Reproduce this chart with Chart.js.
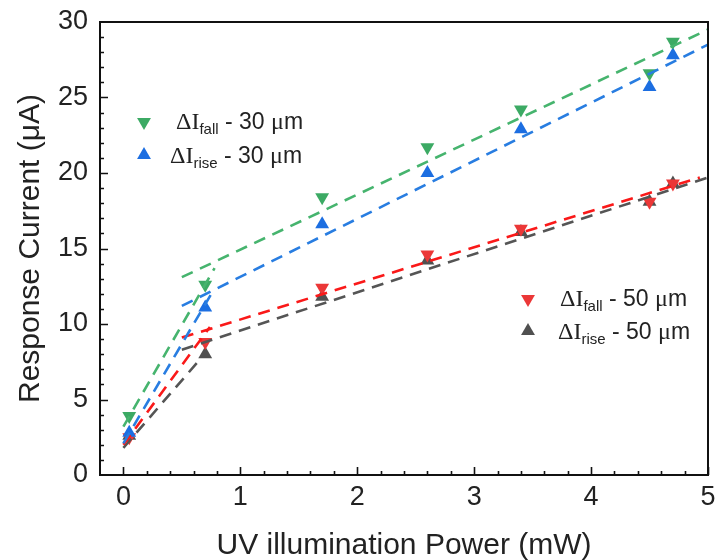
<!DOCTYPE html>
<html>
<head>
<meta charset="utf-8">
<script src="https://cdn.jsdelivr.net/npm/chart.js@4.4.0/dist/chart.umd.min.js"></script>
<style>
  html, body { margin: 0; padding: 0; background: #fff; }
</style>
</head>
<body>
<canvas id="myChart" width="716" height="560"></canvas>
<script>
// measured points
const power = [0.05, 0.7, 1.7, 2.6, 3.4, 4.5, 4.7]
const fall30 = [3.9, 12.6, 18.4, 21.7, 24.2, 26.6, 28.7]
const rise30 = [2.8, 11.1, 16.6, 20.0, 22.9, 25.7, 27.8]
const fall50 = [2.5, 8.8, 12.4, 14.6, 16.3, 18.1, 19.3]
const rise50 = [2.6, 8.0, 11.8, 14.2, 16.1, 18.1, 19.3]

// dashed fit lines: low-power part and high-power part, [x, y] ends
const fitFall30Low = [[0, 3.2], [0.78, 13.7]]
const fitFall30High = [[0.5, 13.1], [5.0, 29.5]]
const fitRise30Low = [[0, 2.1], [0.76, 12.1]]
const fitRise30High = [[0.5, 11.2], [5.0, 28.5]]
const fitFall50Low = [[0, 2.0], [0.74, 9.8]]
const fitFall50High = [[0.5, 9.1], [4.93, 19.7]]
const fitRise50Low = [[0, 1.8], [0.66, 7.7]]
const fitRise50High = [[0.5, 8.3], [5.0, 19.7]]

const xTicks = [0, 1, 2, 3, 4, 5]
const yTicks = [0, 5, 10, 15, 20, 25, 30]

const green = 'rgb(60,170,100)'
const blue = 'rgb(28,110,225)'
const red = 'rgb(235,55,55)'
const gray = 'rgb(80,80,80)'

const greenLine = 'rgb(70,180,110)'
const blueLine = 'rgb(40,125,225)'
const redLine = 'rgb(250,25,25)'
const grayLine = 'rgb(85,85,85)'

function pts(xs, ys) {
  return xs.map((x, i) => ({ x: x, y: ys[i] }))
}
function seg(p) {
  return p.map(a => ({ x: a[0], y: a[1] }))
}

function markers(ys, color, down) {
  return {
    data: pts(power, ys),
    showLine: false,
    pointStyle: 'triangle',
    rotation: down ? 180 : 0,
    pointRadius: 8,
    pointHoverRadius: 8,
    backgroundColor: color,
    borderColor: color,
    borderWidth: 0
  }
}
function fit(p, color) {
  return {
    data: seg(p),
    showLine: true,
    pointRadius: 0,
    borderColor: color,
    borderWidth: 2.6,
    borderDash: [12, 8],
    fill: false
  }
}

const sans = '"Liberation Sans", Arial, sans-serif'
const serif = '"Liberation Serif", "Times New Roman", serif'

// frame and inward ticks
const framePlugin = {
  id: 'frame',
  afterDatasetsDraw(chart) {
    const ctx = chart.ctx
    const a = chart.chartArea
    const xs = chart.scales.x
    const ys = chart.scales.y
    ctx.save()
    ctx.strokeStyle = '#111'
    ctx.lineWidth = 2
    ctx.strokeRect(a.left, a.top, a.right - a.left, a.bottom - a.top)
    ctx.lineWidth = 1.6
    ctx.beginPath()
    for (let v = 0; v <= 5.001; v += 0.2) {
      const px = Math.round(xs.getPixelForValue(v)) + 0.5
      const major = Math.abs(v - Math.round(v)) < 0.01
      ctx.moveTo(px, a.bottom)
      ctx.lineTo(px, a.bottom - (major ? 8 : 4))
    }
    for (let v = 1; v < 30; v += 1) {
      const py = Math.round(ys.getPixelForValue(v)) + 0.5
      const major = v % 5 === 0
      ctx.moveTo(a.left, py)
      ctx.lineTo(a.left + (major ? 8 : 4), py)
    }
    ctx.stroke()
    ctx.restore()
  }
}

function drawTri(ctx, x, y, r, down, color) {
  ctx.fillStyle = color
  ctx.beginPath()
  const s = down ? -1 : 1
  ctx.moveTo(x, y - s * r)
  ctx.lineTo(x - r * 0.866, y + s * r * 0.5)
  ctx.lineTo(x + r * 0.866, y + s * r * 0.5)
  ctx.closePath()
  ctx.fill()
}

const legendPlugin = {
  id: 'legendBoxes',
  afterDraw(chart) {
    const ctx = chart.ctx
    const rows = [
      { mx: 144, my: 122, tx: 176, base: 129, sub: 'fall', size: '30', color: green, down: true },
      { mx: 144, my: 155, tx: 170, base: 163, sub: 'rise', size: '30', color: blue, down: false },
      { mx: 528, my: 299, tx: 560, base: 306, sub: 'fall', size: '50', color: red, down: true },
      { mx: 528, my: 331, tx: 558, base: 339, sub: 'rise', size: '50', color: gray, down: false }
    ]
    ctx.save()
    ctx.textBaseline = 'alphabetic'
    ctx.textAlign = 'left'
    rows.forEach(r => {
      drawTri(ctx, r.mx, r.my, 8, r.down, r.color)
      const parts = [
        [serif, 24, 'ΔI', 0],
        [sans, 15, r.sub, 5],
        [sans, 23, ' - ' + r.size + ' ', 0],
        [serif, 24, 'μ', 0],
        [sans, 23, 'm', 0]
      ]
      let x = r.tx
      ctx.fillStyle = '#222'
      parts.forEach(p => {
        ctx.font = p[1] + 'px ' + p[0]
        ctx.fillText(p[2], x, r.base + p[3])
        x += ctx.measureText(p[2]).width
      })
    })
    ctx.restore()
  }
}

const ctx = document.getElementById('myChart').getContext('2d')
const myChart = new Chart(ctx, {
  type: 'scatter',
  data: {
    datasets: [
      fit(fitFall30Low, greenLine),
      fit(fitRise30Low, blueLine),
      fit(fitFall50Low, redLine),
      fit(fitRise50Low, grayLine),
      fit(fitFall30High, greenLine),
      fit(fitRise30High, blueLine),
      fit(fitFall50High, redLine),
      fit(fitRise50High, grayLine),
      markers(fall30, green, true),
      markers(rise30, blue, false),
      markers(fall50, red, true),
      markers(rise50, gray, false)
    ]
  },
  options: {
    responsive: false,
    animation: false,
    layout: { padding: { top: 22, right: 3, left: 0, bottom: 0 } },
    plugins: {
      legend: { display: false },
      tooltip: { enabled: false }
    },
    scales: {
      x: {
        type: 'linear',
        min: -0.2,
        max: 5,
        afterBuildTicks: s => { s.ticks = xTicks.map(v => ({ value: v })) },
        afterFit: s => { s.height = 85; s.paddingLeft = 0; s.paddingRight = 0 },
        grid: { display: false, drawTicks: false },
        border: { display: false },
        ticks: { font: { family: sans, size: 27 }, color: '#222', padding: 6 },
        title: {
          display: true,
          text: 'UV illumination Power (mW)',
          font: { family: sans, size: 30 },
          color: '#222',
          padding: { top: 0, bottom: -4 }
        }
      },
      y: {
        min: 0,
        max: 30,
        afterBuildTicks: s => { s.ticks = yTicks.map(v => ({ value: v })) },
        afterFit: s => { s.width = 100; s.paddingTop = 0; s.paddingBottom = 0 },
        grid: { display: false, drawTicks: false },
        border: { display: false },
        ticks: { font: { family: sans, size: 27 }, color: '#222', padding: 12 },
        title: {
          display: true,
          text: 'Response Current (μA)',
          font: { family: sans, size: 30 },
          color: '#222',
          padding: { top: 13, bottom: 0 }
        }
      }
    }
  },
  plugins: [framePlugin, legendPlugin]
})
</script>
</body>
</html>
